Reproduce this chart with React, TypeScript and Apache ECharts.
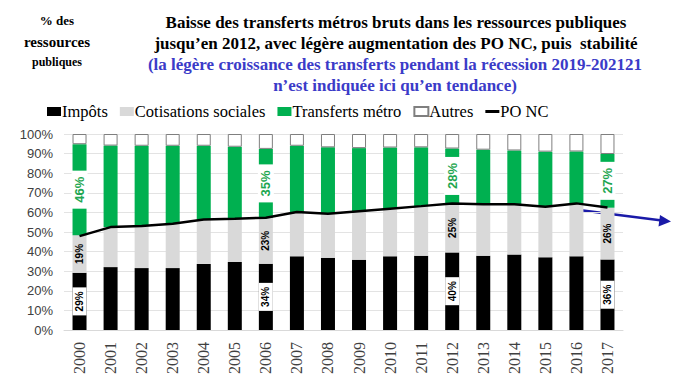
import React, { useEffect, useRef } from "react";
import * as echarts from "echarts";

const years = ["2000","2001","2002","2003","2004","2005","2006","2007","2008","2009","2010","2011","2012","2013","2014","2015","2016","2017"];
const impots = [29.2, 32.1, 31.6, 31.6, 33.7, 34.7, 33.8, 37.6, 36.8, 35.9, 37.6, 37.9, 39.6, 37.9, 38.5, 37.1, 37.6, 36.0];
const cotisations = [19.2, 20.5, 21.4, 22.6, 22.7, 22.1, 23.4, 22.6, 22.5, 24.6, 24.3, 25.3, 25.0, 26.2, 25.6, 25.8, 27.0, 26.4];
const transferts = [46.4, 41.5, 41.0, 39.8, 37.6, 36.7, 35.2, 33.8, 33.9, 32.3, 31.2, 30.0, 28.0, 27.9, 27.5, 28.1, 26.5, 27.4];
const autres = impots.map((v, i) => +(100 - v - cotisations[i] - transferts[i]).toFixed(1));
const poNc = [47.9, 52.5, 53.0, 54.2, 56.4, 56.8, 57.3, 60.2, 59.3, 60.6, 61.9, 63.2, 64.6, 64.1, 64.1, 62.9, 64.6, 62.5];
const labelYears = ["2000", "2006", "2012", "2017"];

const titleLines = [
  "Baisse des transferts métros bruts dans les ressources publiques",
  "jusqu’en 2012, avec légère augmentation des PO NC, puis  stabilité",
];
const subtitleLines = [
  "(la légère croissance des transferts pendant la récession 2019-202121",
  "n’est indiquée ici qu’en tendance)",
];
const sideLines = ["% des", "ressources", "publiques"];

const pct = (p: any) => Math.round(p.value) + "%";

const withLabels = (vals: number[], label: any) =>
  vals.map((v, i) => (labelYears.includes(years[i]) ? { value: v, label: { ...label, show: true } } : v));

export default function App() {
  const ref = useRef<HTMLDivElement>(null);
  useEffect(() => {
    document.body.style.margin = "0";
    const chart = echarts.init(ref.current!, undefined, { renderer: "svg" });
    const serif = "'Liberation Serif', 'Times New Roman', serif";
    const sans = "'Liberation Sans', Arial, sans-serif";
    const smallLabel = {
      position: "inside",
      rotate: 90,
      formatter: pct,
      fontFamily: sans,
      fontSize: 10,
      fontWeight: "bold",
      color: "#000",
      lineHeight: 14,
    };
    const blackLabel = { ...smallLabel, backgroundColor: "#fff", padding: [0, 4] };
    const grayLabel = { ...smallLabel, padding: [0, 3] };
    const greenLabel = {
      position: "inside",
      rotate: 90,
      formatter: pct,
      fontFamily: sans,
      fontSize: 13,
      fontWeight: "bold",
      color: "#1ea650",
      backgroundColor: "#fff",
      lineHeight: 16,
      padding: [0, 6],
    };
    chart.setOption({
      animation: false,
      backgroundColor: "#fff",
      grid: { left: 64, right: 61, top: 134, bottom: 55 },
      legend: {
        left: 42,
        top: 98,
        itemWidth: 14,
        itemHeight: 9,
        itemGap: 12,
        textStyle: { fontFamily: serif, fontSize: 16.5, color: "#000", padding: [0, 0, 0, -4] },
        data: [
          { name: "Impôts", icon: "rect" },
          { name: "Cotisations sociales", icon: "rect" },
          { name: "Transferts métro", icon: "rect" },
          { name: "Autres", icon: "rect" },
          { name: "PO NC", icon: "path://M0,0 H14 V3 H0 Z" },
        ],
      },
      xAxis: {
        type: "category",
        data: years,
        axisTick: { show: false },
        axisLine: { show: true, lineStyle: { color: "#d9d9d9" } },
        axisLabel: { rotate: 90, fontFamily: serif, fontSize: 16, color: "#404040", margin: 12 },
      },
      yAxis: {
        type: "value",
        min: 0,
        max: 100,
        interval: 10,
        axisLabel: {
          formatter: "{value}%",
          fontFamily: sans,
          fontSize: 13,
          color: "#404040",
          margin: 11,
        },
        splitLine: { lineStyle: { color: "#e3e3e3" } },
      },
      series: [
        {
          name: "Impôts",
          type: "bar",
          stack: "total",
          barWidth: 14,
          itemStyle: { color: "#000" },
          label: { ...blackLabel, show: false },
          data: withLabels(impots, blackLabel),
        },
        {
          name: "Cotisations sociales",
          type: "bar",
          stack: "total",
          itemStyle: { color: "#d9d9d9" },
          label: { ...grayLabel, show: false },
          data: withLabels(cotisations, grayLabel),
        },
        {
          name: "Transferts métro",
          type: "bar",
          stack: "total",
          itemStyle: { color: "#00b050" },
          label: { ...greenLabel, show: false },
          data: withLabels(transferts, greenLabel),
        },
        {
          name: "Autres",
          type: "bar",
          stack: "total",
          itemStyle: { color: "#fff", borderColor: "#7f7f7f", borderWidth: 1 },
          data: autres,
        },
        {
          name: "PO NC",
          type: "line",
          symbol: "none",
          z: 5,
          lineStyle: { color: "#000", width: 2.5 },
          itemStyle: { color: "#000" },
          data: poNc,
        },
      ],
      graphic: [
        ...sideLines.map((t, i) => ({
          type: "text",
          x: 57,
          y: [20, 42, 62][i],
          style: {
            text: t,
            fontFamily: serif,
            fontWeight: "bold",
            fontSize: [13, 15, 12][i],
            fill: "#000",
            textAlign: "center",
            textVerticalAlign: "middle",
          },
        })),
        ...titleLines.map((t, i) => ({
          type: "text",
          x: 396,
          y: 22 + i * 21,
          style: {
            text: t,
            fontFamily: serif,
            fontWeight: "bold",
            fontSize: 17,
            fill: "#000",
            textAlign: "center",
            textVerticalAlign: "middle",
          },
        })),
        ...subtitleLines.map((t, i) => ({
          type: "text",
          x: 395,
          y: 64 + i * 21,
          style: {
            text: t,
            fontFamily: serif,
            fontWeight: "bold",
            fontSize: 17,
            fill: "#3b3bc8",
            textAlign: "center",
            textVerticalAlign: "middle",
          },
        })),
        {
          type: "line",
          shape: { x1: 579, y1: 210, x2: 662, y2: 220.5 },
          style: { stroke: "#1a1aa8", lineWidth: 2.5 },
        },
        {
          type: "polygon",
          shape: { points: [[671, 221.5], [660, 215], [658.5, 226.5]] },
          style: { fill: "#1a1aa8" },
        },
      ],
    });
    return () => chart.dispose();
  }, []);
  return (
    <div
      ref={ref}
      style={{ position: "fixed", left: 0, top: 0, width: 684, height: 385 }}
    />
  );
}
